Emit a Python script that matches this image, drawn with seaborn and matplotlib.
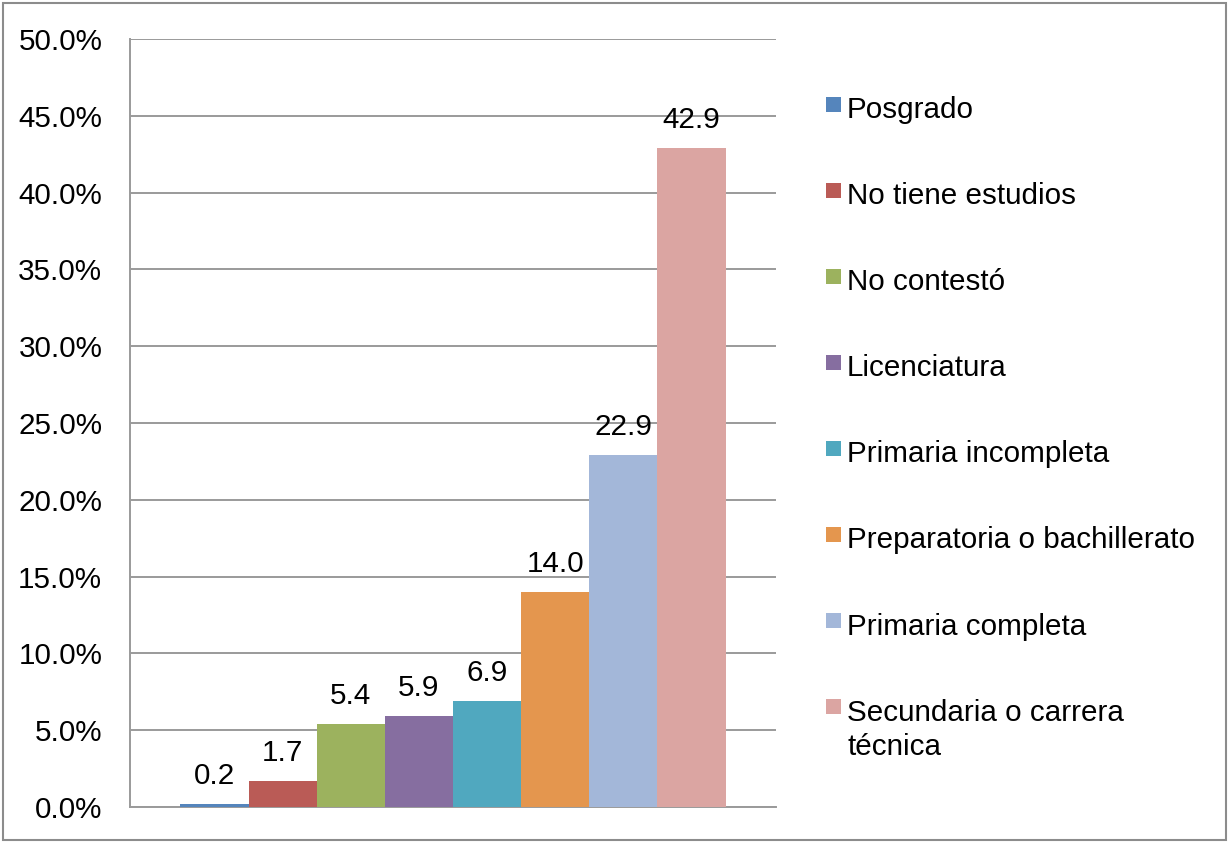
import matplotlib
matplotlib.use("Agg")
import matplotlib.pyplot as plt
from matplotlib.patches import Rectangle
from matplotlib.ticker import FuncFormatter
import seaborn as sns
import pandas as pd

# Nivel de estudios (porcentaje de encuestados)
categorias = [
    "Posgrado",
    "No tiene estudios",
    "No contestó",
    "Licenciatura",
    "Primaria incompleta",
    "Preparatoria o bachillerato",
    "Primaria completa",
    "Secundaria o carrera técnica",
]
porcentajes = [0.2, 1.7, 5.4, 5.9, 6.9, 14.0, 22.9, 42.9]
etiquetas_leyenda = [
    "Posgrado",
    "No tiene estudios",
    "No contestó",
    "Licenciatura",
    "Primaria incompleta",
    "Preparatoria o bachillerato",
    "Primaria completa",
    "Secundaria o carrera\ntécnica",
]
colores = ["#5585BC", "#BA5B56", "#9CB25E", "#866EA0", "#50A8BF",
           "#E4964E", "#A3B7D9", "#DBA5A2"]

sns.set_theme(style="white")
plt.rcParams["font.family"] = ["Liberation Sans", "DejaVu Sans"]
FS = 21.3

W, H = 1228, 842
df = pd.DataFrame({"grupo": [""] * len(categorias),
                   "nivel": categorias,
                   "pct": porcentajes})

fig = plt.figure(figsize=(W / 100, H / 100), dpi=100)
ax = fig.add_axes([130 / W, 35 / H, 646 / W, 768 / H])

sns.barplot(data=df, x="grupo", y="pct", hue="nivel", hue_order=categorias,
            palette=colores, width=0.844, saturation=1, legend=False,
            edgecolor="none", linewidth=0, ax=ax, zorder=3)

ax.set_ylim(0, 50)
ax.set_xlim(-0.5, 0.5)
ax.set_yticks(range(0, 51, 5))
ax.yaxis.set_major_formatter(FuncFormatter(lambda v, _: f"{v:.1f}%"))
ax.tick_params(axis="y", labelsize=FS, colors="black", length=0, pad=20)
ax.set_xticks([])
ax.set_xlabel("")
ax.set_ylabel("")
ax.grid(axis="y", color="#9a9a9a", linewidth=1.4, zorder=0)
ax.set_axisbelow(True)
for s in ["top", "right"]:
    ax.spines[s].set_visible(False)
for s in ["left", "bottom"]:
    ax.spines[s].set_color("#9a9a9a")
    ax.spines[s].set_linewidth(1.4)

for cont, val in zip(ax.containers, porcentajes):
    ax.bar_label(cont, labels=[f"{val:.1f}"], padding=10, fontsize=FS,
                 color="black")

# Leyenda a la derecha, una entrada por nivel
base0 = 118
paso = 86.1
interlinea = 34
for i, (lab, col) in enumerate(zip(etiquetas_leyenda, colores)):
    yb = base0 + i * paso
    fig.patches.append(Rectangle((826 / W, 1 - (yb - 6.5) / H),
                                 15 / W, 15 / H,
                                 transform=fig.transFigure,
                                 facecolor=col, edgecolor="none"))
    for k, linea in enumerate(lab.split("\n")):
        fig.text(847 / W, 1 - (yb + k * interlinea) / H, linea,
                 fontsize=FS, va="baseline", ha="left", color="black",
                 transform=fig.transFigure)

# Marco exterior del gráfico
fig.patches.append(Rectangle((2.5 / W, 2.5 / H), (W - 5) / W, (H - 5) / H,
                             transform=fig.transFigure, fill=False,
                             edgecolor="#8c8c8c", linewidth=1.5))

fig.savefig("out.png", dpi=100, facecolor="white")
